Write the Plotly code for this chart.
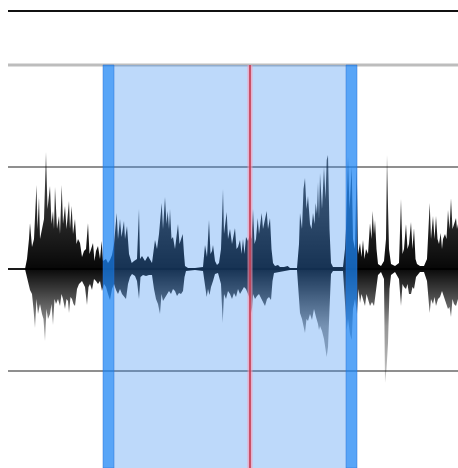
import plotly.graph_objects as go

# waveform envelope: (time column, level) ; level 102 = half scale, 204 = full scale
UPPER = [
    (25, 0), (27, 10), (29, 30), (30, 46), (32, 22), (34, 30), (36.5, 84), (37.5, 40), (39, 72), (40, 30),
    (42, 40), (44, 50), (46, 117), (47.5, 60), (50, 83), (51.5, 45), (53, 58), (54, 40), (55, 82), (57, 40),
    (59, 53), (60, 35), (61.7, 84), (63, 45), (65, 63), (66.5, 40), (69, 68), (70, 40), (71.7, 63), (73, 35),
    (75, 50), (76.5, 25), (78, 30), (80, 26), (82, 12), (84, 18), (86, 20), (88, 46), (89.5, 15), (91, 20),
    (93, 26), (94.5, 8), (96, 18), (98, 23), (100, 10), (101.7, 28), (103, 8), (106, 10), (108, 6), (110, 9),
    (112, 14), (114, 25), (116.7, 56), (118, 30), (120, 50), (121.5, 32), (124, 48), (125, 30), (127, 43),
    (129, 15), (131.7, 6), (134, 8), (137, 10), (139, 60), (140, 10), (142, 13), (145, 8), (148, 13), (150, 10),
    (152, 6), (155, 29), (157, 20), (159, 35), (161.7, 66), (163, 40), (165, 72), (166.5, 45), (167.7, 58),
    (169, 40), (170, 60), (171.5, 30), (173, 32), (175, 20), (178, 45), (179.5, 25), (181, 30), (182.7, 35),
    (184, 15), (185, 3), (188, 1), (195, 1), (203, 2), (205, 24), (207, 12), (209, 49), (210.5, 15), (212, 18),
    (213, 24), (215, 8), (217, 4), (219, 6), (221, 20), (223, 80), (224, 35), (226.7, 57), (228, 30), (230, 40),
    (232, 25), (235, 41), (236.5, 20), (238, 22), (240, 29), (241.5, 15), (243, 30), (244.5, 15), (246, 32),
    (248, 28), (250, 35), (251.5, 30), (253, 60), (254.5, 25), (256, 30), (257.7, 51), (259, 35), (261.7, 56),
    (263, 40), (266.7, 58), (268, 40), (270, 51), (271.5, 20), (273, 6), (275, 3), (278, 4), (280, 2), (284, 2),
    (287.7, 3), (290, 1), (297, 1), (299, 25), (300, 56), (302, 40), (303.5, 80), (305, 91), (306.5, 60),
    (308, 73), (310, 45), (311.5, 40), (313, 56), (314.5, 45), (315.7, 66), (317, 55), (318, 87), (319, 50),
    (320, 96), (322, 60), (324, 102), (325.5, 70), (326.7, 109), (328, 114), (329.5, 40), (331, 6), (333, 2),
    (343, 2), (345, 20), (346, 40), (348, 112), (349.5, 60), (351.7, 102), (353, 30), (355, 20), (356.7, 106),
    (358, 15), (360, 26), (361.5, 12), (363, 29), (364.5, 10), (366, 20), (368, 15), (370, 46), (371.5, 30),
    (372.7, 58), (374, 35), (375, 49), (376.5, 20), (378, 5), (381, 3), (384, 8), (386, 30), (387, 114),
    (388, 63), (389, 20), (391, 5), (395, 3), (399, 6), (401, 70), (402.5, 15), (404, 20), (406, 45),
    (407.5, 20), (409, 25), (411, 47), (412.5, 20), (414, 41), (415.5, 10), (417, 5), (420, 3), (424, 3),
    (427, 10), (429.7, 66), (431, 30), (433, 53), (434.5, 30), (436, 53), (437.5, 30), (439, 25), (440.7, 36),
    (442, 20), (443, 30), (445, 35), (446.5, 30), (448, 59), (449.5, 40), (451, 71), (452.5, 40), (454, 45),
    (456, 51), (457, 40), (458, 45),
]

# lower envelope, depth below the centre line
LOWER = [
    (25, 0), (27, 8), (30, 21), (32, 25), (33.5, 40), (35, 59), (36.5, 30), (38, 45), (40, 35), (42, 45),
    (43.5, 50), (45, 72), (46.5, 40), (48, 50), (50, 45), (51.5, 35), (53, 56), (54.5, 30), (56, 35), (58, 30),
    (60, 37), (61.5, 25), (63, 30), (65, 40), (66.5, 30), (68, 32), (69, 44), (70.5, 28), (72, 30), (73.5, 35),
    (75, 37), (77, 20), (79, 15), (82, 12), (85, 18), (87, 36), (88.5, 18), (90, 15), (92, 21), (94, 10),
    (96, 12), (98, 15), (100, 12), (102, 22), (104, 15), (106, 18), (108, 25), (110, 31), (112, 20), (114, 15),
    (116, 21), (118, 25), (120, 20), (122, 25), (124, 28), (126, 30), (128, 15), (130, 8), (132, 5), (135, 7),
    (137, 12), (139, 30), (140.5, 8), (143, 6), (146, 7), (149, 6), (152, 6), (154, 20), (156, 30), (158, 35),
    (160, 45), (161.5, 25), (163, 32), (165, 28), (167, 25), (169, 22), (171, 25), (173, 20), (175, 22),
    (177, 27), (179, 24), (181, 25), (183, 22), (184.5, 8), (186, 2), (195, 1), (203, 2), (205, 18),
    (206.7, 28), (208, 20), (209.5, 26), (211, 18), (213, 12), (215, 5), (218, 4), (221, 15), (222.7, 54),
    (224, 25), (226, 30), (228, 22), (230, 25), (232, 30), (234, 24), (236, 28), (238, 20), (240, 25),
    (242, 22), (244, 18), (246, 20), (248, 25), (250, 30), (251.7, 44), (253, 25), (255, 30), (257, 27),
    (259, 25), (261, 30), (263, 33), (265, 37), (267, 30), (269, 28), (271, 31), (272.5, 12), (274, 4),
    (278, 3), (284, 2), (290, 1), (297, 1), (299, 30), (300, 44), (302, 50), (303.5, 55), (305, 64),
    (306.5, 50), (308, 52), (310, 45), (312, 51), (314, 40), (316, 48), (318, 55), (319, 61), (320, 57),
    (322, 62), (324, 70), (325.5, 80), (326.7, 88), (328, 78), (329.5, 40), (331, 5), (333, 2), (343, 2),
    (345, 30), (346.7, 61), (348, 50), (350, 65), (351.7, 71), (353, 40), (355, 30), (357, 45), (358.5, 20),
    (360, 34), (361.5, 25), (363, 30), (365, 37), (366.5, 25), (368, 30), (370, 37), (372, 33), (374, 37),
    (376, 20), (378, 6), (381, 3), (384, 10), (385, 114), (386.5, 100), (388, 74), (389.5, 20), (391, 6),
    (395, 3), (399, 10), (401, 37), (402.5, 15), (404, 18), (406, 20), (407.5, 15), (409, 25), (411, 25),
    (412.5, 18), (414, 20), (416, 8), (420, 3), (424, 3), (427, 12), (429.7, 44), (431, 30), (433, 35),
    (434.5, 28), (436, 37), (438, 30), (440, 28), (442, 22), (444, 28), (446, 35), (448, 40), (449.5, 38),
    (451, 48), (452.5, 30), (454, 35), (456, 37), (458, 30),
]

GRID_LEVELS = [102, -102]
FULL_SCALE = 204
RULER_LEVEL = 258
TRACK_START = 8
Y_RANGE = [-199, 269]
X_RANGE = [0, 458]
SELECTION = [103, 357]
HANDLE_W = 11
PLAYHEAD = 250

xs = [t for t, _ in UPPER] + [t for t, _ in LOWER[::-1]]
ys = [v for _, v in UPPER] + [-v for _, v in LOWER[::-1]]

fig = go.Figure()
fig.add_trace(go.Scatter(
    x=xs, y=ys, mode="lines", fill="toself",
    line=dict(width=0, color="rgba(0,0,0,0)"),
    fillgradient=dict(
        type="vertical", start=-115, stop=117,
        colorscale=[
            [0.0, "rgba(0,0,0,0.22)"],
            [0.25, "rgba(0,0,0,0.42)"],
            [0.42, "rgba(0,0,0,0.8)"],
            [0.5, "rgba(0,0,0,0.97)"],
            [0.7, "rgba(0,0,0,0.85)"],
            [1.0, "rgba(0,0,0,0.7)"],
        ],
    ),
    hoverinfo="skip", showlegend=False,
))

shapes = []
# ruler and track lines
shapes.append(dict(type="line", x0=TRACK_START, x1=X_RANGE[1], y0=RULER_LEVEL, y1=RULER_LEVEL,
                   line=dict(color="#111", width=2), layer="below"))
shapes.append(dict(type="line", x0=TRACK_START, x1=X_RANGE[1], y0=FULL_SCALE, y1=FULL_SCALE,
                   line=dict(color="#bdbdbd", width=3), layer="below"))
for g in GRID_LEVELS:
    shapes.append(dict(type="line", x0=TRACK_START, x1=X_RANGE[1], y0=g, y1=g,
                       line=dict(color="#6a6a6a", width=1.5), layer="below"))
shapes.append(dict(type="line", x0=TRACK_START, x1=X_RANGE[1], y0=0, y1=0,
                   line=dict(color="#1a1a1a", width=2), layer="below"))

# selection overlay
shapes.append(dict(type="rect", x0=SELECTION[0], x1=SELECTION[1], y0=Y_RANGE[0], y1=FULL_SCALE,
                   fillcolor="rgba(55,140,240,0.33)", line=dict(width=0), layer="above"))
for x0, x1 in [(SELECTION[0], SELECTION[0] + HANDLE_W), (SELECTION[1] - HANDLE_W, SELECTION[1])]:
    shapes.append(dict(type="rect", x0=x0, x1=x1, y0=Y_RANGE[0], y1=FULL_SCALE,
                       fillcolor="rgba(20,130,245,0.6)", line=dict(width=0.8, color="rgba(40,110,210,0.6)"),
                       layer="above"))

# playhead
shapes.append(dict(type="line", x0=PLAYHEAD, x1=PLAYHEAD, y0=Y_RANGE[0], y1=FULL_SCALE,
                   line=dict(color="rgba(255,150,175,0.6)", width=5), layer="above"))
shapes.append(dict(type="line", x0=PLAYHEAD, x1=PLAYHEAD, y0=Y_RANGE[0], y1=FULL_SCALE,
                   line=dict(color="#c03a50", width=1.6), layer="above"))

fig.update_layout(
    width=458, height=468,
    margin=dict(l=0, r=0, t=0, b=0),
    paper_bgcolor="white", plot_bgcolor="white",
    xaxis=dict(range=X_RANGE, visible=False, fixedrange=True),
    yaxis=dict(range=Y_RANGE, visible=False, fixedrange=True),
    shapes=shapes,
    showlegend=False,
)

# figure fills the whole window, so drop the default body margin
fig.write_html("out.html", config={"displayModeBar": False},
               post_script="document.body.style.margin='0';document.documentElement.style.overflow='hidden';")
